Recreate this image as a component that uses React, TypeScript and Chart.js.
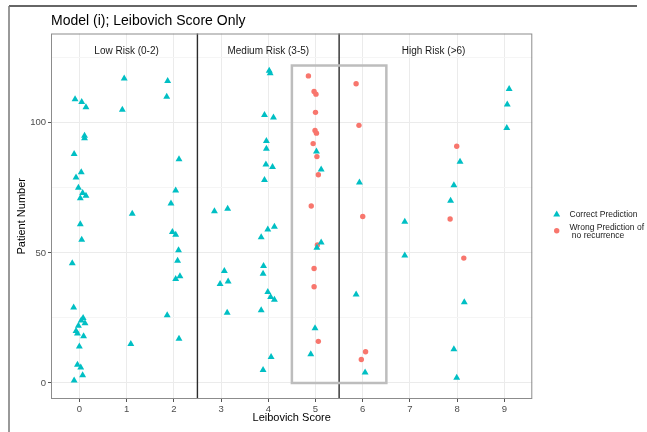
import React, { useEffect, useRef } from "react";
import { Chart, registerables } from "chart.js";

Chart.register(...registerables);

// ---- data ----
const xTickValues = [0, 1, 2, 3, 4, 5, 6, 7, 8, 9];
const yTickValues = [0, 25, 50, 75, 100, 125];
const yLabelledTicks = [0, 50, 100];

const correctX = [
  -0.09, 0.05, 0.14, 0.95, 0.91, 1.87, 1.85, 0.11, 0.11, -0.11, 0.04, -0.07, -0.02, 0.07, 0.14, 0.02, 2.11, 2.04, 1.94, 1.12,
  0.02, 0.05, -0.15, -0.12, 0.08, 0.04, 0.12, -0.02, -0.07, -0.04, 0.09, 0.0, -0.04, 0.03, 0.07, -0.11, 1.09, 1.97, 2.04, 2.1, 2.08, 2.13, 2.04, 1.86, 2.11,
  4.02, 4.04, 3.92, 4.11, 3.96, 3.96, 3.95, 4.09, 3.92, 2.86, 3.14, 3.99, 4.13, 3.85, 5.12, 5.03, 3.9, 3.89, 3.07, 3.15, 2.98, 3.99, 4.05, 4.13, 3.13, 3.85, 4.99, 4.9, 4.06, 3.89, 5.02, 5.12,
  5.93, 5.86, 6.05, 9.1, 9.06, 9.05, 8.06, 7.93, 7.86, 6.89, 6.89, 8.15, 7.93, 7.99,
];
const correctY = [
  109, 108, 106, 117, 105, 116, 110, 95, 94, 88, 81, 79, 75, 73, 72, 71, 86, 74, 69, 65,
  61, 55, 46, 29, 25, 24, 23, 22, 20, 19, 18, 14, 7, 6, 3, 1, 15, 58, 57, 51, 47, 41, 40, 26, 17,
  120, 119, 103, 102, 93, 90, 84, 83, 78, 66, 67, 59, 60, 56, 54, 52, 45, 42, 43, 39, 38, 35, 33, 32, 27, 28, 21, 11, 10, 5, 89, 82,
  77, 34, 4, 113, 107, 98, 85, 76, 70, 62, 49, 31, 13, 2,
];

const wrongX = [4.85, 4.97, 5.01, 5.0, 4.99, 5.02, 4.95, 5.03, 5.06, 4.91, 5.04, 4.97, 4.97, 5.06, 5.86, 5.92, 6.0, 6.06, 5.97, 7.99, 7.85, 8.14];
const wrongY = [118, 112, 111, 104, 97, 96, 92, 87, 80, 68, 53, 44, 37, 16, 115, 99, 64, 12, 9, 91, 63, 48];

const seriesNames = ["Correct Prediction", "Wrong Prediction of\n no recurrence"];
const riskBoundaries = [2.5, 5.5];
const riskGroupLabels = ["Low Risk (0-2)", "Medium Risk (3-5)", "High Risk (>6)"];
const riskGroupCenters = [1, 4, 7.5];
const riskLabelY = 127.6;
const highlightX = [4.5, 6.5];
const highlightY = [0, 122];

const titleText = "Model (i); Leibovich Score Only";
const xTitle = "Leibovich Score";
const yTitle = "Patient Number";

const TEAL = "#00BFC4";
const RED = "#F8766D";
const FONT = "'Liberation Sans', Arial, Helvetica, sans-serif";

const W = 647;
const H = 432;
const AREA = { left: 51, right: 532.3, top: 33.5, bottom: 399 };

function drawMarker(ctx: CanvasRenderingContext2D, style: string, r: number, x: number, y: number) {
  ctx.beginPath();
  if (style === "triangle") {
    for (let k = 0; k < 3; k++) {
      const ang = (k * 2 * Math.PI) / 3;
      const px = x + Math.sin(ang) * r;
      const py = y - Math.cos(ang) * r;
      if (k === 0) ctx.moveTo(px, py);
      else ctx.lineTo(px, py);
    }
    ctx.closePath();
  } else {
    ctx.arc(x, y, r, 0, Math.PI * 2);
  }
  ctx.fill();
}

const decorPlugin = {
  id: "decor",
  beforeDatasetsDraw(chart: any) {
    const { ctx, chartArea, scales } = chart;
    const xs = scales.x;
    const ys = scales.y;
    ctx.save();
    // risk boundaries
    ctx.strokeStyle = "#2b2b2b";
    ctx.lineWidth = 1.4;
    riskBoundaries.forEach((b) => {
      const px = xs.getPixelForValue(b);
      ctx.beginPath();
      ctx.moveTo(px, chartArea.top);
      ctx.lineTo(px, chartArea.bottom);
      ctx.stroke();
    });
    // highlight rectangle
    ctx.strokeStyle = "#bdbdbd";
    ctx.lineWidth = 2.5;
    const x0 = xs.getPixelForValue(highlightX[0]);
    const x1 = xs.getPixelForValue(highlightX[1]);
    const y0 = ys.getPixelForValue(highlightY[1]);
    const y1 = ys.getPixelForValue(highlightY[0]);
    ctx.strokeRect(x0, y0, x1 - x0, y1 - y0);
    // facet labels
    ctx.fillStyle = "#1a1a1a";
    ctx.font = `10px ${FONT}`;
    ctx.textAlign = "center";
    ctx.textBaseline = "middle";
    riskGroupLabels.forEach((t, i) => {
      ctx.fillText(t, xs.getPixelForValue(riskGroupCenters[i]), ys.getPixelForValue(riskLabelY));
    });
    ctx.restore();
  },
  afterDraw(chart: any) {
    const { ctx, chartArea } = chart;
    ctx.save();
    // panel border
    ctx.strokeStyle = "#8c8c8c";
    ctx.lineWidth = 1;
    ctx.strokeRect(chartArea.left + 0.5, chartArea.top + 0.5, chartArea.right - chartArea.left - 1, chartArea.bottom - chartArea.top - 1);
    // outer figure border
    ctx.strokeStyle = "#333";
    ctx.lineWidth = 1.5;
    ctx.beginPath();
    ctx.moveTo(637, 6);
    ctx.lineTo(9, 6);
    ctx.stroke();
    ctx.strokeStyle = "#777";
    ctx.beginPath();
    ctx.moveTo(9, 6);
    ctx.lineTo(9, H);
    ctx.stroke();
    // title
    ctx.fillStyle = "#000";
    ctx.font = `14px ${FONT}`;
    ctx.textAlign = "left";
    ctx.textBaseline = "middle";
    ctx.fillText(titleText, 51, 21);
    // axis titles
    ctx.font = `11px ${FONT}`;
    ctx.textAlign = "center";
    ctx.fillText(xTitle, (chartArea.left + chartArea.right) / 2, 418);
    ctx.save();
    ctx.translate(22, (chartArea.top + chartArea.bottom) / 2);
    ctx.rotate(-Math.PI / 2);
    ctx.fillText(yTitle, 0, 0);
    ctx.restore();
    // legend
    const ds = chart.data.datasets;
    const items = [
      { y: 214.5, lines: seriesNames[0].split("\n"), ds: ds[0] },
      { y: 230.7, lines: seriesNames[1].split("\n"), ds: ds[1] },
    ];
    ctx.font = `8.5px ${FONT}`;
    ctx.textAlign = "left";
    items.forEach((it) => {
      ctx.fillStyle = it.ds.backgroundColor;
      drawMarker(ctx, it.ds.pointStyle, it.ds.pointRadius, 556.7, it.y);
      ctx.fillStyle = "#1a1a1a";
      if (it.lines.length === 1) {
        ctx.fillText(it.lines[0], 569.5, it.y);
      } else {
        ctx.fillText(it.lines[0], 569.5, it.y - 3);
        ctx.fillText(it.lines[1], 569.5, it.y + 4.5);
      }
    });
    ctx.restore();
  },
};

export default function App() {
  const ref = useRef<HTMLCanvasElement | null>(null);
  useEffect(() => {
    if (!ref.current) return;
    const chart = new Chart(ref.current, {
      type: "scatter",
      data: {
        datasets: [
          {
            label: seriesNames[0],
            data: correctX.map((x, i) => ({ x, y: correctY[i] })),
            pointStyle: "triangle",
            pointRadius: 4,
            backgroundColor: TEAL,
            borderColor: TEAL,
            borderWidth: 0,
          },
          {
            label: seriesNames[1],
            data: wrongX.map((x, i) => ({ x, y: wrongY[i] })),
            pointStyle: "circle",
            pointRadius: 2.7,
            backgroundColor: RED,
            borderColor: RED,
            borderWidth: 0,
          },
        ],
      } as any,
      options: {
        responsive: false,
        animation: false,
        devicePixelRatio: 1,
        layout: { padding: { left: 0, top: AREA.top, right: W - AREA.right, bottom: 0 } },
        plugins: { legend: { display: false }, title: { display: false }, tooltip: { enabled: false } },
        scales: {
          x: {
            type: "linear",
            min: -0.6,
            max: 9.59,
            afterBuildTicks: (s: any) => {
              s.ticks = xTickValues.map((v) => ({ value: v }));
            },
            afterFit: (s: any) => {
              s.height = H - AREA.bottom;
            },
            ticks: {
              color: "#4d4d4d",
              font: { size: 9.5, family: FONT },
              padding: 2,
              maxRotation: 0,
              autoSkip: false,
            },
            grid: { color: "#ebebeb", tickLength: 3, tickColor: "#555", lineWidth: 1 },
            border: { display: false },
          },
          y: {
            type: "linear",
            min: -6.15,
            max: 134.3,
            afterBuildTicks: (s: any) => {
              s.ticks = yTickValues.map((v) => ({ value: v }));
            },
            afterFit: (s: any) => {
              s.width = AREA.left;
            },
            ticks: {
              color: "#4d4d4d",
              font: { size: 9.5, family: FONT },
              padding: 2,
              autoSkip: false,
              callback: (v: any) => (yLabelledTicks.includes(Number(v)) ? String(v) : ""),
            },
            grid: {
              color: (c: any) => (c.tick && yLabelledTicks.includes(c.tick.value) ? "#ebebeb" : "#f5f5f5"),
              tickColor: (c: any) => (c.tick && yLabelledTicks.includes(c.tick.value) ? "#555" : "rgba(0,0,0,0)"),
              tickLength: 3,
              lineWidth: 1,
            },
            border: { display: false },
          },
        },
      } as any,
      plugins: [decorPlugin],
    });
    return () => chart.destroy();
  }, []);
  return (
    <div style={{ position: "fixed", left: 0, top: 0, width: W, height: H, background: "#fff" }}>
      <canvas ref={ref} width={W} height={H} style={{ width: W, height: H, display: "block" }} />
    </div>
  );
}
